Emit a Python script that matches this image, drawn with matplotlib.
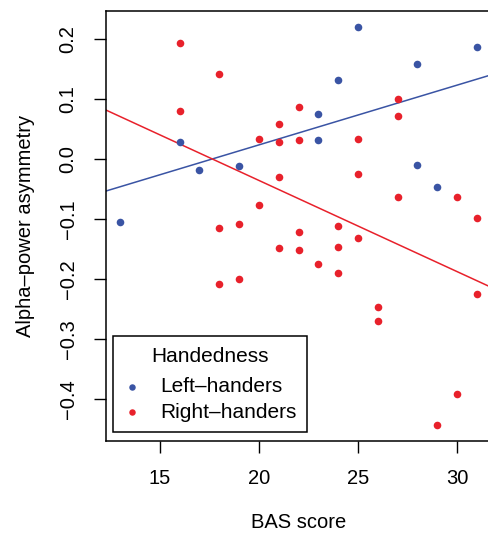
import matplotlib
matplotlib.use('Agg')
import matplotlib.pyplot as plt
import numpy as np

plt.rcParams['font.family'] = ['Liberation Sans', 'DejaVu Sans']

# left-handers: BAS score vs alpha-power asymmetry
left_bas = [13, 16, 17, 19, 23, 23, 24, 25, 28, 28, 29, 31]
left_alpha = [-0.105, 0.028, -0.018, -0.012, 0.0745, 0.032, 0.132, 0.220,
              0.159, -0.010, -0.047, 0.187]

# right-handers
right_bas = [16, 18, 16, 22, 21, 20, 21, 22, 21, 27, 27, 25, 25, 18, 19, 20, 22,
             21, 22, 19, 18, 27, 30, 31, 24, 25, 24, 23, 24, 31, 26, 26, 30, 29]
right_alpha = [0.193, 0.142, 0.080, 0.086, 0.059, 0.033, 0.028, 0.031, -0.030,
               0.0995, 0.071, 0.033, -0.0245, -0.1145, -0.108, -0.077, -0.122,
               -0.148, -0.151, -0.199, -0.208, -0.063, -0.063, -0.098, -0.112,
               -0.132, -0.146, -0.175, -0.189, -0.224, -0.247, -0.269, -0.392, -0.443]

x_ticks = [15, 20, 25, 30]
y_ticks = [-0.4, -0.3, -0.2, -0.1, 0.0, 0.1, 0.2]

blue = '#3a54a4'
red = '#e8212b'

fig = plt.figure(figsize=(4.88, 5.36), dpi=100)
ax = fig.add_axes([106 / 488, 1 - 441 / 536, 385 / 488, 430 / 536])

ax.scatter(left_bas, left_alpha, s=30, color=blue, label='Left\u2013handers', zorder=3, linewidths=0)
ax.scatter(right_bas, right_alpha, s=30, color=red, label='Right\u2013handers', zorder=3, linewidths=0)

# R-style axis range: data range plus 4% each side
allx = left_bas + right_bas
ally = left_alpha + right_alpha
x0, x1 = min(allx), max(allx)
y0, y1 = min(ally), max(ally)
xpad = 0.04 * (x1 - x0)
ypad = 0.04 * (y1 - y0)
ax.set_xlim(x0 - xpad, x1 + xpad)
ax.set_ylim(y0 - ypad, y1 + ypad)

# least-squares lines across the whole panel
xs = np.array(ax.get_xlim())
for xv, yv, c in [(left_bas, left_alpha, blue), (right_bas, right_alpha, red)]:
    fit = np.poly1d(np.polyfit(xv, yv, 1))
    ax.plot(xs, fit(xs), color=c, lw=1.1, zorder=2)

ax.set_xticks(x_ticks)
ax.set_xticklabels([str(t) for t in x_ticks])
ax.set_yticks(y_ticks)
ax.set_yticklabels([f'{t:.1f}'.replace('-', '\u2212') for t in y_ticks],
                   rotation=90, va='center')
ax.tick_params(direction='out', length=8.5, width=1.0, labelsize=14.5, pad=12)
for sp in ax.spines.values():
    sp.set_linewidth(1.1)

ax.set_xlabel('BAS score', fontsize=14.5)
ax.set_ylabel('Alpha\u2013power asymmetry', fontsize=14.5)
ax.xaxis.set_label_coords(0.5, -(522 - 441) / 430)
ax.xaxis.label.set_va('center')
ax.yaxis.set_label_coords((26 - 106) / 385, 0.5)
ax.yaxis.label.set_va('center')

leg = ax.legend(title='Handedness', loc='lower left', bbox_to_anchor=(7 / 385, 9 / 430),
                borderaxespad=0, fontsize=15, title_fontsize=15, fancybox=False,
                edgecolor='black', framealpha=1, handletextpad=0.95, borderpad=0.5,
                labelspacing=0.3, handlelength=0.8, scatterpoints=1, markerscale=0.85)
leg.get_frame().set_linewidth(1.1)
leg._legend_box.sep = 8.5

fig.savefig('out.png', dpi=100)
